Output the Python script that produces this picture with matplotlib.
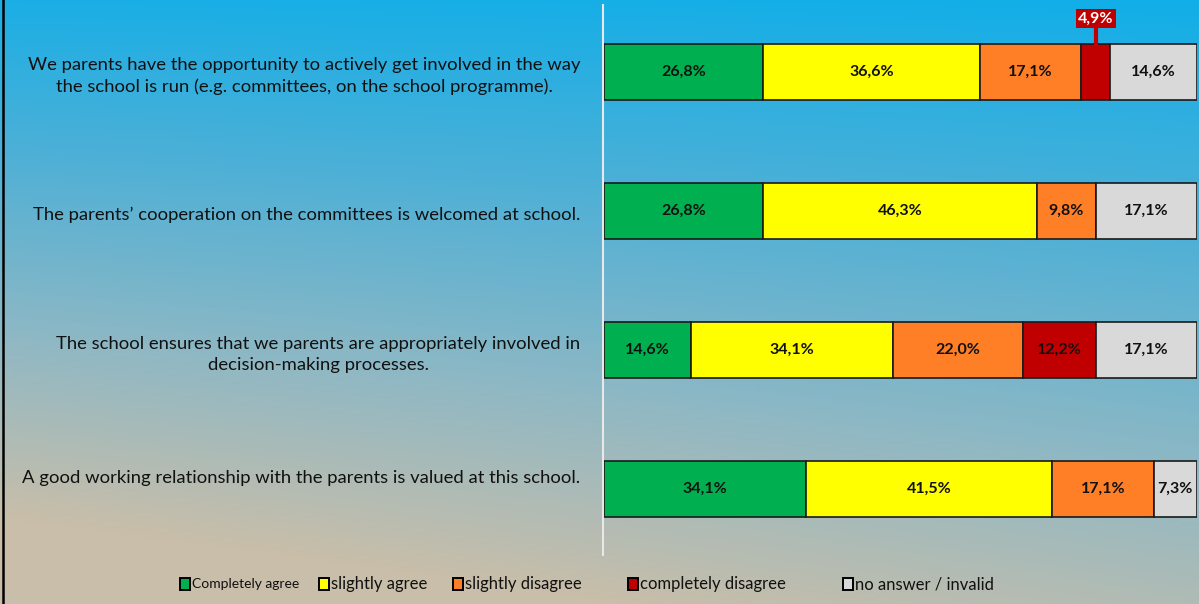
import numpy as np
import matplotlib
matplotlib.use('Agg')
import matplotlib.pyplot as plt
from matplotlib.patches import Rectangle
from matplotlib.colors import LinearSegmentedColormap

plt.rcParams['font.family'] = ['Lato', 'DejaVu Sans']

# data
questions = [
    'We parents have the opportunity to actively get involved in the way\nthe school is run (e.g. committees, on the school programme).',
    'The parents\u2019 cooperation on the committees is welcomed at school.',
    'The school ensures that we parents are appropriately involved in\ndecision-making processes.',
    'A good working relationship with the parents is valued at this school.',
]
categories = ['Completely agree', 'slightly agree', 'slightly disagree',
              'completely disagree', 'no answer / invalid']
completely_agree = [26.8, 26.8, 14.6, 34.1]
slightly_agree = [36.6, 46.3, 34.1, 41.5]
slightly_disagree = [17.1, 9.8, 22.0, 17.1]
completely_disagree = [4.9, 0.0, 12.2, 0.0]
no_answer = [14.6, 17.1, 17.1, 7.3]
colors = ['#00b050', '#ffff00', '#ff7f27', '#c00000', '#d9d9d9']

series = [completely_agree, slightly_agree, slightly_disagree,
          completely_disagree, no_answer]

def pct(v):
    return ('%.1f%%' % v).replace('.', ',')

fig = plt.figure(figsize=(11.99, 6.04), dpi=100)

# gradient background
bg = fig.add_axes([0, 0, 1, 1])
bg.set_axis_off()
yy, xx = np.mgrid[0:1:200j, 0:1:200j]
t = np.clip(yy * 0.85 + (1 - xx) * yy * 0.25 + (1 - xx) * 0.05, 0, 1)
cmap = LinearSegmentedColormap.from_list('bg', ['#12aee8', '#4fb0d6', '#8fb8c4', '#c9bea9'])
bg.imshow(t, cmap=cmap, aspect='auto', extent=[0, 1, 0, 1], origin='upper', vmin=0, vmax=1)
bg.set_xlim(0, 1)
bg.set_ylim(0, 1)
bg.plot([3 / 1199, 3 / 1199], [0, 1], color='black', lw=1.8)
bg.plot([603 / 1199, 603 / 1199], [1 - 5 / 604, 1 - 555 / 604], color='#e8e8e8', lw=1.5)

ax = fig.add_axes([604 / 1199, 1 - 555 / 604, 593 / 1199, 550 / 604])
ax.patch.set_alpha(0)
y = np.arange(len(questions))
left = np.zeros(len(questions))
for vals, c in zip(series, colors):
    vals = np.array(vals)
    bars = ax.barh(y, vals, left=left, height=0.40, color=c, edgecolor='#1a1a1a', lw=1.2)
    for i, v in enumerate(vals):
        if v == 0:
            continue
        cx = left[i] + v / 2
        if v < 6:
            # small segment: label sits above the bar in a red box
            ax.plot([cx, cx], [y[i] - 0.2, y[i] - 0.31], color='#c00000', lw=3)
            ax.text(cx, y[i] - 0.385, pct(v), ha='center', va='center',
                    fontsize=11.5, fontweight='bold', color='white',
                    bbox=dict(boxstyle='square,pad=0.15', fc='#c00000', ec='none'))
        else:
            ax.text(cx, y[i], pct(v), ha='center', va='center',
                    fontsize=11.5, fontweight='bold', color='#111111')
    left = left + vals

ax.set_xlim(0, 100)
ax.set_ylim(3.475, -0.482)
ax.set_axis_off()

for i, q in enumerate(questions):
    ax.text(-4.0, y[i] + (0.03 if i < 3 else -0.08), q, ha='right', va='center',
            multialignment='center', fontsize=13.3, color='#111111',
            linespacing=1.38, clip_on=False)

# legend
leg_x = [180, 319, 453, 628, 843]
for i, (lab, c) in enumerate(zip(categories, colors)):
    x0 = leg_x[i] / 1199
    bg.add_patch(Rectangle((x0, 1 - 590 / 604), 10 / 1199, 12 / 604,
                           fc=c, ec='black', lw=1.4))
    bg.text(x0 + 12 / 1199, 1 - 584 / 604, lab, ha='left', va='center',
            fontsize=10 if i == 0 else 12, color='#111111')

fig.savefig('out.png', dpi=100)
